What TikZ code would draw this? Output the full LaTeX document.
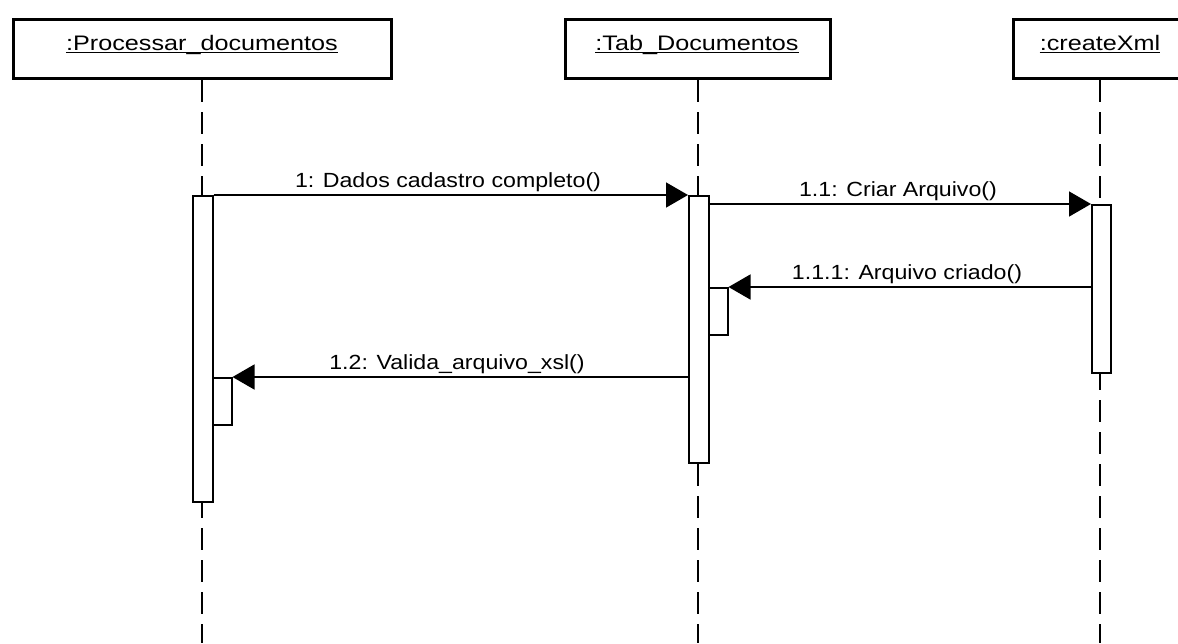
\documentclass[tikz,border=0pt]{standalone}
\usepackage{fontspec}
\usetikzlibrary{arrows.meta}
\newfontfamily\msgfont[FakeStretch=1.13]{Liberation Sans}
\newfontfamily\hdrfont[FakeStretch=1.2]{Liberation Sans}
\begin{document}
\begin{tikzpicture}[x=1pt,y=-1pt,
  objbox/.style={draw,line width=3pt,fill=white,minimum height=59pt,inner sep=0pt,anchor=north west},
  objtext/.style={inner sep=0pt,anchor=base,font=\hdrfont\fontsize{21}{24}\selectfont},
  lifeline/.style={line width=1.6pt,dash pattern=on 22pt off 10pt},
  actbar/.style={draw,line width=1.5pt,fill=white,inner sep=0pt,anchor=north west,minimum width=20pt},
  msg/.style={line width=1.5pt,-{Triangle[length=22pt,width=25pt]}},
  msglabel/.style={inner sep=0pt,anchor=base,font=\msgfont\fontsize{20.5}{24}\selectfont}
]
\clip (0,0) rectangle (1178,643);
\fill[white] (0,0) rectangle (1178,643);
% object boxes
\node[objbox,minimum width=378pt] (o1) at (12,18) {};
\node[objbox,minimum width=265pt] (o2) at (564,18) {};
\node[objbox,minimum width=176pt] (o3) at (1012,18) {};
\node[objtext] (t1) at (202,50) {:Processar\_documentos};
\node[objtext] (t2) at (697,50) {:Tab\_Documentos};
\node[objtext] (t3) at (1100,50) {:createXml};
\foreach \t in {t1,t2,t3}
  \draw[line width=1pt] ([yshift=-2.5pt]\t.base west) -- ([yshift=-2.5pt]\t.base east);
% lifelines
\coordinate (e1) at (202,643);
\coordinate (e2) at (698,643);
\coordinate (e3) at (1100,643);
\draw[lifeline] (o1.south -| e1) -- (e1);
\draw[lifeline] (o2.south -| e2) -- (e2);
\draw[lifeline] (o3.south -| e3) -- (e3);
% activation bars
\node[actbar,minimum height=306pt] (b1) at (192,195) {};
\node[actbar,minimum height=267pt] (b2) at (688,195) {};
\node[actbar,minimum width=19pt,minimum height=168pt] (b3) at (1091,204) {};
\node[actbar,minimum width=19pt,minimum height=47pt] (a2) at (708,287) {};
\node[actbar,minimum width=19pt,minimum height=47pt] (a1) at (212,377) {};
% messages
\draw[msg] (b1.north east) -- (b2.north west);
\node[msglabel] (l1) at (448,187) {1: Dados cadastro completo()};
\draw[msg] (b2.east |- b3.north) -- (b3.north west);
\node[msglabel] (l2) at (898,196) {1.1: Criar Arquivo()};
\draw[msg] (b3.west |- a2.north) -- (a2.north east);
\node[msglabel] (l3) at (907,279) {1.1.1: Arquivo criado()};
\draw[msg] (b2.west |- a1.north) -- (a1.north east);
\node[msglabel] (l4) at (457,369) {1.2: Valida\_arquivo\_xsl()};
\end{tikzpicture}
\end{document}
